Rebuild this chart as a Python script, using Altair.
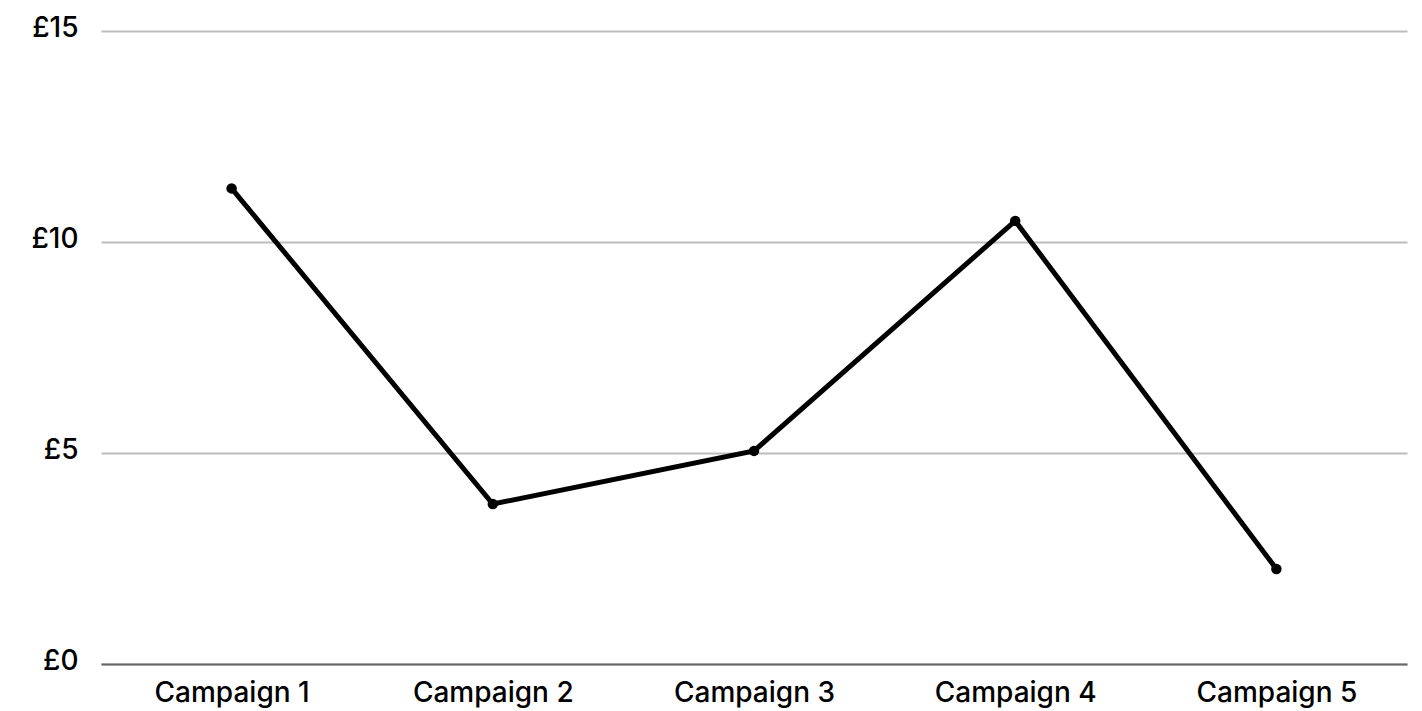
import altair as alt
import pandas as pd

campaigns = ["Campaign 1", "Campaign 2", "Campaign 3", "Campaign 4", "Campaign 5"]
values = [11.27, 3.79, 5.05, 10.5, 2.25]
y_ticks = [0, 5, 10, 15]

df = pd.DataFrame({"campaign": campaigns, "value": values})

base = alt.Chart(df).encode(
    x=alt.X(
        "campaign:N",
        sort=campaigns,
        title=None,
        scale=alt.Scale(type="point", padding=0.5),
        axis=alt.Axis(
            labelAngle=0,
            labelFont="Inter",
            labelFontSize=28,
            labelFontWeight=500,
            labelColor="#000000",
            labelPadding=15,
            ticks=False,
            grid=False,
            domainColor="#666666",
            domainWidth=2,
        ),
    ),
    y=alt.Y(
        "value:Q",
        title=None,
        scale=alt.Scale(domain=[0, 15], nice=False),
        axis=alt.Axis(
            values=y_ticks,
            labelExpr="'£' + datum.value",
            labelFont="Inter",
            labelFontSize=28,
            labelFontWeight=500,
            labelColor="#000000",
            labelPadding=23,
            labelOffset=-3,
            ticks=False,
            domain=False,
            gridColor="#bdbdbd",
            gridWidth=2,
        ),
    ),
)

line = base.mark_line(color="#000000", strokeWidth=5)
points = base.mark_circle(color="#000000", size=110, opacity=1)

chart = (
    (line + points)
    .properties(
        width=1306,
        height=633,
        autosize=alt.AutoSizeParams(type="none"),
        padding={"left": 93, "top": 23, "right": 7, "bottom": 47},
        background="#ffffff",
    )
    .configure_view(stroke=None, strokeWidth=0)
)

chart.save("out.html", embed_options={"renderer": "svg", "actions": False})
